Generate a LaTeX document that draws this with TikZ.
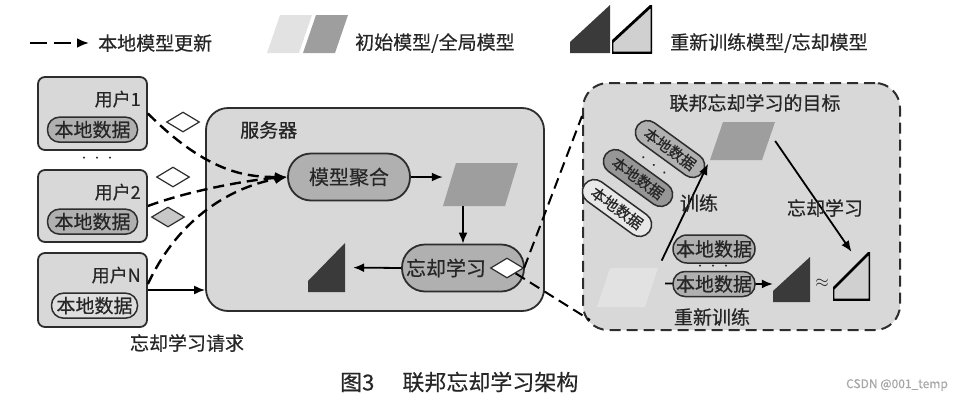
\documentclass[tikz,border=0pt]{standalone}
\usepackage{fontspec}
\setmainfont{Noto Sans CJK SC}[FakeBold=0.5]
\usetikzlibrary{arrows.meta,positioning,shapes.geometric}

\definecolor{boxgray}{RGB}{216,216,216}
\definecolor{pillgray}{RGB}{176,176,176}
\definecolor{modelgray}{RGB}{158,158,158}
\definecolor{initgray}{RGB}{226,226,226}
\definecolor{tridark}{RGB}{58,58,58}
\definecolor{trilight}{RGB}{208,208,208}
\definecolor{edge}{RGB}{45,45,45}

\newcommand{\vdotrow}{\textbullet\hspace{3pt}\textbullet\hspace{3pt}\textbullet}

\tikzset{
  usrbox/.style={draw=edge, line width=1.8pt, fill=boxgray, rounded corners=7pt, minimum width=109pt, inner sep=0pt},
  datapill/.style={draw=edge, line width=1.5pt, fill=#1, rounded corners=12pt, minimum width=90pt, minimum height=25pt, inner sep=0pt},
  datapill/.default=pillgray,
  procpill/.style={draw=edge, line width=1.8pt, fill=pillgray, rounded corners=23pt, minimum width=122pt, minimum height=47pt, inner sep=0pt, font=\fontsize{20pt}{22pt}\selectfont},
  rotpill/.style={datapill=#1, rotate=-36, minimum width=80pt, minimum height=24pt, rounded corners=12pt, font=\fontsize{15pt}{17pt}\selectfont},
  reqdia/.style={diamond, draw=edge, line width=1.2pt, fill=#1, minimum width=33pt, minimum height=20pt, inner sep=0pt},
  reqdia/.default=white,
  model/.style={inner sep=0pt, path picture={
    \fill[#1] (path picture bounding box.south west) -- ([xshift=13pt]path picture bounding box.north west)
      -- (path picture bounding box.north east) -- ([xshift=-13pt]path picture bounding box.south east) -- cycle;}},
  tri/.style={minimum width=37pt, minimum height=48pt, inner sep=0pt},
  darktri/.style={tri, path picture={
    \fill[tridark] ([yshift=11pt]path picture bounding box.south west) -- (path picture bounding box.north east)
      -- (path picture bounding box.south east) -- (path picture bounding box.south west) -- cycle;}},
  lighttri/.style={tri, path picture={
    \filldraw[fill=trilight, draw=black, line width=2.8pt, line join=round] ([yshift=11pt]path picture bounding box.south west) -- (path picture bounding box.north east)
      -- (path picture bounding box.south east) -- (path picture bounding box.south west) -- cycle;}},
  dotrow/.style={font=\fontsize{10pt}{10pt}\selectfont, inner sep=0pt},
  upd/.style={line width=2.4pt, dash pattern=on 11pt off 6pt, -{Latex[length=12pt,width=10pt]}},
  flow/.style={line width=1.8pt, -{Latex[length=11pt,width=9pt]}},
  zoomln/.style={line width=2pt, dash pattern=on 11pt off 6pt},
  uname/.style={font=\fontsize{18pt}{20pt}\selectfont, inner sep=0pt}
}

\begin{document}
\begin{tikzpicture}[x=1pt, y=-1pt, font=\fontsize{19pt}{21pt}\selectfont, text=black!85]
\useasboundingbox (0,0) rectangle (977,402);

% legend
\coordinate (lgs) at (30,43);
\node[anchor=west, inner sep=0pt] (lgt1) at (98,43) {本地模型更新};
\draw[upd, dash pattern=on 17pt off 7pt, shorten >=9pt] (lgs) -- (lgt1.west);
\node[model=initgray, minimum width=45pt, minimum height=38pt] (lgm1) at (289.5,34) {};
\node[model=modelgray, minimum width=45pt, minimum height=38pt] (lgm2) at (325.5,34) {};
\node[anchor=west, inner sep=0pt] (lgt2) at (355,43) {初始模型/全局模型};
\node[darktri, minimum width=40pt] (lgr1) at (590,29) {};
\node[lighttri, minimum width=40pt] (lgr2) at (632,29) {};
\node[anchor=west, inner sep=0pt] (lgt3) at (670,43) {重新训练模型/忘却模型};

% users
\node[usrbox, minimum height=73pt] (u1) at (92.5,113.5) {};
\node[uname, anchor=east] (u1n) at ([xshift=-7pt,yshift=-23pt]u1.north east) {用户1};
\node[datapill, anchor=south] (u1d) at ([yshift=8pt]u1.south) {本地数据};
\node[dotrow] (udots) at (97,159) {\vdotrow};
\node[usrbox, minimum height=72pt] (u2) at (92.5,206) {};
\node[uname, anchor=east] (u2n) at ([xshift=-7pt,yshift=-23pt]u2.north east) {用户2};
\node[datapill, anchor=south] (u2d) at ([yshift=8pt]u2.south) {本地数据};
\node[usrbox, minimum height=74pt] (uN) at (92.5,290) {};
\node[uname, anchor=east] (uNn) at ([xshift=-7pt,yshift=-23pt]uN.north east) {用户N};
\node[datapill=boxgray!85!white, anchor=south, minimum width=86pt] (uNd) at ([xshift=2pt,yshift=9pt]uN.south) {本地数据};
\node (reqt) at (187,343) {忘却学习请求};

% server
\node[draw=edge, line width=1.8pt, fill=boxgray, rounded corners=22pt, minimum width=338pt, minimum height=203pt] (srv) at (375,209.5) {};
\node[anchor=west, inner sep=0pt] (srvt) at (240,130) {服务器};
\node[procpill] (agg) at (349,177) {模型聚合};
\node[model=modelgray, minimum width=75pt, minimum height=43pt] (glob) at (480.5,184.5) {};
\node[procpill] (fgt) at (463,268) {\makebox[114pt][l]{忘却学习}};
\node[reqdia] (fdia) at (507,268) {};
\node[darktri, minimum height=49pt] (dt) at (326.5,267.5) {};

\draw[flow] (agg.east) -- (agg.east -| glob.west);
\draw[flow] (glob.south -| fgt.north) -- (fgt.north);
\draw[flow, shorten >=8pt] (fgt.west) -- (dt.east);

% users -> server
\node[reqdia] (d1) at (183,122) {};
\node[reqdia] (d2) at (173,177) {};
\node[reqdia=pillgray!70!white] (d3) at (168,217) {};
\draw[upd] (u1.east) .. controls +(60,60) and +(-40,0) .. (agg.west);
\draw[upd] (u2.east) .. controls +(40,-15) and +(-40,3) .. (agg.west);
\draw[upd] ([yshift=6pt]uN.east) .. controls +(35,-75) and +(-45,8) .. (agg.west);
\draw[flow] (uN.east) -- (uN.east -| srv.west);

% unlearning goal
\node[draw=edge, line width=2pt, dash pattern=on 11pt off 6pt, fill=boxgray, rounded corners=25pt, minimum width=317pt, minimum height=247pt] (pnl) at (741.5,206.5) {};
\coordinate (zu) at (582,116);
\coordinate (zd) at (590,320);
\draw[zoomln] (fdia.east) -- (zu);
\draw[zoomln] (fdia.south east) -- (zd);
\node (pnlt) at (755,103) {联邦忘却学习的目标};
\node[model=modelgray, minimum width=65pt, minimum height=38pt] (goal) at (742.5,141) {};
\node[model=initgray, minimum width=61pt, minimum height=39pt] (init) at (627.5,287.5) {};
\node[rotpill=pillgray] (rp1) at (670,149) {本地数据};
\node[dotrow, rotate=-36] (rdots) at (653,166) {\vdotrow};
\node[rotpill=pillgray!85!black] (rp2) at (638,178) {本地数据};
\node[rotpill=boxgray!60!white] (rp3) at (617,208) {本地数据};
\draw[flow, shorten <=8pt, shorten >=4pt] (init.north east) -- (goal.south west);
\node (trn) at (699,203) {训练};
\node[darktri, minimum height=45pt] (rt) at (791.5,279.5) {};
\node[lighttri] (lt) at (851.5,276) {};
\node (apx) at (822,283) {$\approx$};
\draw[flow] (goal.east) -- (lt.north);
\node (unl) at (825,208) {忘却学习};
\draw[flow] (init.east) ++(7,-4) -- (rt.west |- 0,284);
\node[datapill, minimum width=82pt, minimum height=28pt, rounded corners=14pt] (hp1) at (714,249) {本地数据};
\node[dotrow] (hdots) at (713,267) {\vdotrow};
\node[datapill, minimum width=82pt] (hp2) at (714,284) {本地数据};
\node (rtrn) at (712,317) {重新训练};

% caption
\node[font=\fontsize{22pt}{24pt}\selectfont, anchor=west, inner sep=0pt] (cap) at (340,382) {图3\hspace{28pt}联邦忘却学习架构};
\node[font=\fontsize{12pt}{14pt}\selectfont, text=gray!70] (wm) at (897,385) {CSDN @001\_temp};
\end{tikzpicture}
\end{document}
